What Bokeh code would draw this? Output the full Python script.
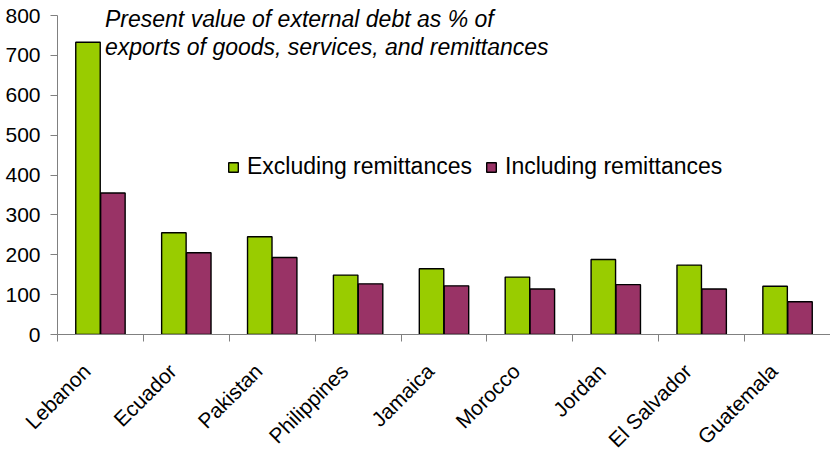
import numpy as np
from bokeh.plotting import figure
from bokeh.models import (Range1d, FixedTicker, Legend, LegendItem, Label,
                          ColumnDataSource)
from bokeh.embed import file_html
from bokeh.resources import INLINE

countries = ["Lebanon", "Ecuador", "Pakistan", "Philippines", "Jamaica",
             "Morocco", "Jordan", "El Salvador", "Guatemala"]
excluding = [733, 255, 245, 149, 165, 144, 188, 174, 121]
including = [355, 205, 193, 127, 122, 114, 125, 114, 82]
y_ticks = [0, 100, 200, 300, 400, 500, 600, 700, 800]
title_lines = ["Present value of external debt as % of",
               "exports of goods, services, and remittances"]
series_names = ["Excluding remittances", "Including remittances"]

GREEN = "#99CC00"
MAROON = "#993366"
FONT = "Liberation Sans"

n = len(countries)
centers = np.arange(n) + 0.5
offset = 0.145
bw = 0.285
label_shift = 0.16   # rotated labels end just left of the category centre

# axis scale: 800 units over 319 px; frame extended upward so the
# title text above the 800 line is not clipped
FH = 333
y_top = 800 * FH / 319.0

src = ColumnDataSource(dict(
    xg=centers - offset, xm=centers + offset,
    exc=excluding, inc=including))

p = figure(frame_width=773, frame_height=FH, output_backend="svg",
           toolbar_location=None,
           x_range=Range1d(0, n), y_range=Range1d(0, y_top),
           min_border_left=57, min_border_right=0, min_border_top=1,
           min_border_bottom=100)
p.outline_line_color = None
p.grid.grid_line_color = None
p.background_fill_color = "white"

r1 = p.vbar(x="xg", top="exc", width=bw, source=src, fill_color=GREEN,
            line_color="black", line_width=1.4)
r2 = p.vbar(x="xm", top="inc", width=bw, source=src, fill_color=MAROON,
            line_color="black", line_width=1.4)

# x axis: boundary ticks as minor ticks, labels near centres
label_pos = [float(c - label_shift) for c in centers]
xa = p.xaxis[0]
xa.ticker = FixedTicker(ticks=label_pos, minor_ticks=list(range(n + 1)))
xa.major_label_overrides = {lp: name for lp, name in zip(label_pos, countries)}
xa.major_tick_line_color = None
xa.major_tick_out = 0
xa.major_tick_in = 0
xa.minor_tick_out = 7
xa.minor_tick_in = 0
xa.minor_tick_line_color = "#808080"
xa.axis_line_color = "#808080"
xa.major_label_orientation = np.pi / 4
xa.major_label_text_font = FONT
xa.major_label_text_font_size = "21px"
xa.major_label_text_color = "black"
xa.major_label_standoff = 26

ya = p.yaxis[0]
ya.ticker = FixedTicker(ticks=y_ticks)
ya.bounds = (0, 800)
ya.minor_tick_line_color = None
ya.major_tick_out = 7
ya.major_tick_in = 0
ya.major_tick_line_color = "#808080"
ya.axis_line_color = "#808080"
ya.major_label_text_font = FONT
ya.major_label_text_font_size = "21px"
ya.major_label_text_color = "black"
ya.major_label_standoff = 10

legend = Legend(items=[LegendItem(label=series_names[0], renderers=[r1]),
                       LegendItem(label=series_names[1], renderers=[r2])],
                orientation="horizontal", location=(170, 154),
                glyph_width=12, glyph_height=12, label_standoff=8, spacing=13,
                padding=0, margin=0, border_line_color=None,
                background_fill_alpha=0, label_text_font=FONT,
                label_text_font_size="23px", label_height=20,
                label_text_color="black")
p.add_layout(legend, "center")

for line, ybase in zip(title_lines, [315.5, 287.5]):
    p.add_layout(Label(x=47.5, y=ybase, x_units="screen", y_units="screen",
                       text=line, text_font=FONT, text_font_size="23px",
                       text_font_style="italic", text_baseline="alphabetic",
                       text_color="black"))

open("out.html", "w").write(file_html(p, INLINE))
